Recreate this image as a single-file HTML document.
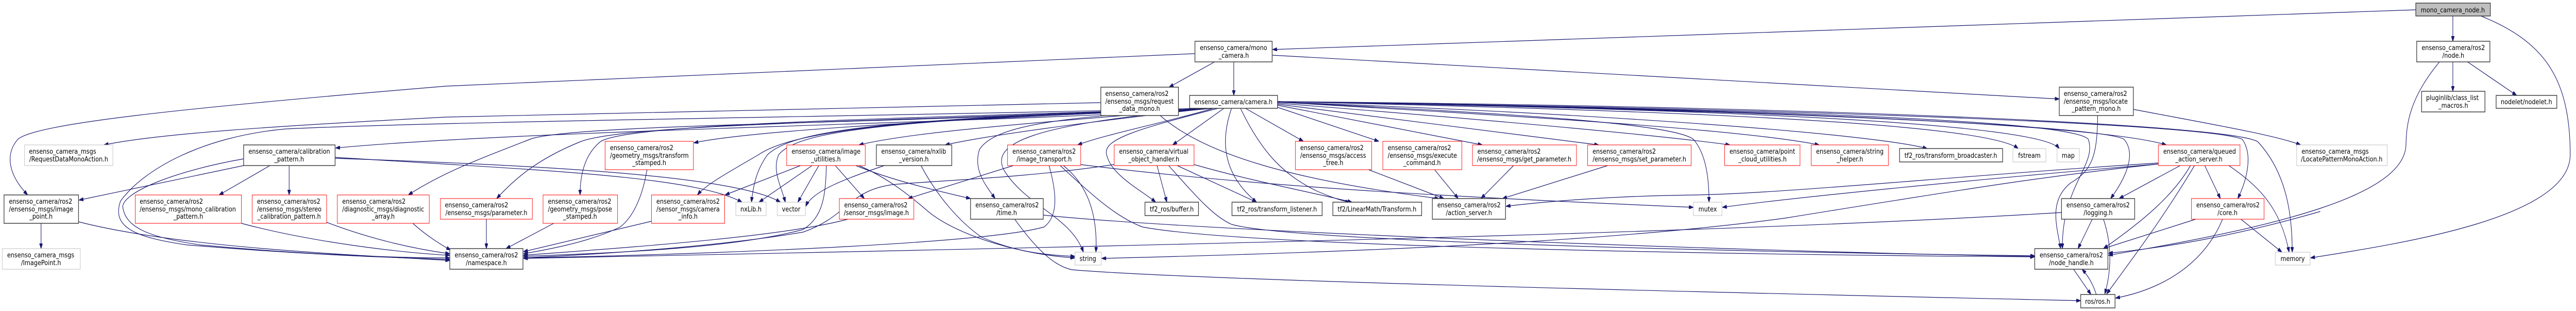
<!DOCTYPE html>
<html><head><meta charset="utf-8"><style>
html,body{margin:0;padding:0;background:#fff;width:100%;height:100%;overflow:hidden;}
svg{display:block;overflow:hidden;width:100vw;height:100vh;}
text{font-family:"DejaVu Sans","Liberation Sans",sans-serif;font-size:13px;fill:#000;}
.e{fill:none;stroke:#191970;stroke-width:1.2;marker-end:url(#ar);}
.k{fill:#fff;stroke:#404040;stroke-width:1.5;}
.g{fill:#fff;stroke:#bfbfbf;stroke-width:1;}
.r{fill:#fff;stroke:#ff0000;stroke-width:1;}
</style></head><body>
<svg viewBox="0 0 5773 603" preserveAspectRatio="none" xmlns="http://www.w3.org/2000/svg">
<defs><marker id="ar" viewBox="0 0 10 7" refX="10" refY="3.5" markerWidth="10" markerHeight="7" markerUnits="userSpaceOnUse" orient="auto"><path d="M0,0 L10,3.5 L0,7z" fill="#191970" stroke="#191970"/></marker></defs>

<path class="e" d="M5414,19 L2852,96"/>
<path class="e" d="M5497,31 L5497,80"/>
<path class="e" d="M5560,31 C5700,80 5760,150 5760,300 C5760,420 5400,470 5178,500"/>
<path class="e" d="M5497,120 L5497,177"/>
<path class="e" d="M5530,120 L5640,185"/>
<path class="e" d="M5467,120 C5400,190 5393,240 5392,280 C5390,380 5100,440 4725,495"/>
<path class="e" d="M2765,120 L2765,185"/>
<path class="e" d="M2722,120 L2620,169"/>
<path class="e" d="M2678,104 L1000,167 C400,210 80,240 40,270 C10,300 20,340 62,378"/>
<path class="e" d="M2851,107 L4615,192"/>
<path class="e" d="M2467,199 L1000,227 C600,245 350,260 233,281"/>
<path class="e" d="M2600,224 C2700,300 2900,350 3225,385"/>
<path class="e" d="M2700,210 C2400,235 1200,250 752,287"/>
<path class="e" d="M2700,210 C2000,225 1000,235 640,250 C450,265 320,330 270,390 C250,440 300,460 420,475 C700,495 900,500 1008,503"/>
<path class="e" d="M2680,210 C2000,240 1300,240 1191,269 C1100,300 1000,330 915,378"/>
<path class="e" d="M2690,210 C2000,235 1400,240 1300,275 C1200,310 1150,350 1113,385"/>
<path class="e" d="M2700,210 C2000,230 1400,240 1345,275 C1310,300 1300,340 1300,378"/>
<path class="e" d="M2700,210 C2200,230 1700,250 1555,277"/>
<path class="e" d="M2710,210 C2200,225 1800,240 1700,300 C1620,340 1580,360 1563,378"/>
<path class="e" d="M2710,210 C2000,230 1780,250 1720,300 C1695,330 1688,360 1684,392"/>
<path class="e" d="M2710,210 C2000,232 1790,252 1745,300 C1730,330 1750,360 1760,392"/>
<path class="e" d="M2710,210 C2300,240 2050,255 1925,281"/>
<path class="e" d="M2710,210 C2400,240 2200,265 2118,281"/>
<path class="e" d="M2720,210 C2600,240 2480,260 2415,281"/>
<path class="e" d="M2743,210 L2628,281"/>
<path class="e" d="M2720,210 C2400,225 2230,240 2195,290 C2180,330 2210,360 2230,385"/>
<path class="e" d="M2730,210 C2550,250 2470,270 2480,300 C2490,340 2560,370 2590,392"/>
<path class="e" d="M2760,210 C2740,260 2730,330 2816,392"/>
<path class="e" d="M2720,210 C2300,240 2220,280 2250,330 C2300,400 2400,420 2428,489"/>
<path class="e" d="M2791,210 L2921,274"/>
<path class="e" d="M2780,210 C2830,300 2880,340 2950,370 C2990,385 3010,390 3025,392"/>
<path class="e" d="M2863,208 L3090,274"/>
<path class="e" d="M2863,204 L3322,281"/>
<path class="e" d="M2863,202 L3583,281"/>
<path class="e" d="M2863,200 C3300,230 3700,260 3877,281"/>
<path class="e" d="M2863,198 C3400,220 3750,240 3795,270 C3825,300 3830,350 3830,392"/>
<path class="e" d="M2863,198 C3400,225 3900,250 4077,281"/>
<path class="e" d="M2863,198 C3600,220 4200,260 4319,288"/>
<path class="e" d="M2863,197 C3800,215 4450,240 4523,288"/>
<path class="e" d="M2863,197 C3900,212 4570,240 4615,288"/>
<path class="e" d="M2863,197 C3900,210 4700,240 4855,281"/>
<path class="e" d="M2863,197 C3800,210 4700,240 4760,270 C4790,300 4760,350 4730,385"/>
<path class="e" d="M2863,197 C4000,210 4950,240 5025,270 C5050,300 5035,350 5015,385"/>
<path class="e" d="M2863,197 C4000,205 5000,240 5060,275 C5130,340 5137,430 5137,489"/>
<path class="e" d="M2863,197 C4200,215 4650,240 4680,270 C4700,320 4620,360 4622,482"/>
<path class="e" d="M4701,224 C4700,300 4690,330 4640,355 C4590,390 4610,440 4618,482"/>
<path class="e" d="M4781,212 C4950,240 5100,262 5156,281"/>
<path class="e" d="M546,321 L177,388"/>
<path class="e" d="M605,321 L491,378"/>
<path class="e" d="M648,321 L648,378"/>
<path class="e" d="M546,308 C400,330 280,370 275,400 C280,440 330,460 450,475 C700,495 900,500 1008,500"/>
<path class="e" d="M751,305 C1200,330 1550,340 1663,392"/>
<path class="e" d="M751,307 C1200,320 1650,340 1749,392"/>
<path class="e" d="M92,433 L92,482"/>
<path class="e" d="M176,430 C400,480 800,495 1008,505"/>
<path class="e" d="M541,433 C700,470 900,490 1008,495"/>
<path class="e" d="M732,431 C850,470 950,485 1008,492"/>
<path class="e" d="M925,433 C960,460 990,475 1010,485"/>
<path class="e" d="M1090,425 L1090,482"/>
<path class="e" d="M1241,433 L1134,482"/>
<path class="e" d="M1450,329 C1440,380 1420,420 1390,440 C1320,470 1220,485 1173,492"/>
<path class="e" d="M1460,429 L1173,488"/>
<path class="e" d="M1900,425 C1750,460 1400,480 1173,495"/>
<path class="e" d="M1794,321 L1625,378"/>
<path class="e" d="M1820,321 L1701,392"/>
<path class="e" d="M1835,321 L1788,392"/>
<path class="e" d="M1872,321 L1937,385"/>
<path class="e" d="M1852,321 C1850,380 1845,420 1800,445 C1650,480 1400,490 1173,497"/>
<path class="e" d="M1918,321 C2000,350 2100,370 2175,385"/>
<path class="e" d="M1925,321 C1990,345 2040,380 2080,410 C2150,460 2300,495 2409,500"/>
<path class="e" d="M1982,321 C1900,345 1820,370 1806,400"/>
<path class="e" d="M2064,321 C2100,380 2150,430 2200,460 C2280,490 2350,495 2409,497"/>
<path class="e" d="M2271,321 L2035,385"/>
<path class="e" d="M2351,321 C2370,380 2370,420 2340,440 C2200,475 1500,495 1173,500"/>
<path class="e" d="M2383,321 C2440,360 2460,420 2456,489"/>
<path class="e" d="M2376,321 C2450,380 2500,420 2560,440 C2800,480 4000,495 4560,498"/>
<path class="e" d="M2421,319 C2800,360 3200,380 3795,402"/>
<path class="e" d="M2593,321 L2615,392"/>
<path class="e" d="M2638,321 L2816,392"/>
<path class="e" d="M2676,319 C2800,350 2950,375 3030,392"/>
<path class="e" d="M2497,319 C2300,345 2100,350 2000,358 C1900,370 1900,420 1800,450 C1600,480 1300,495 1173,500"/>
<path class="e" d="M2619,321 C2680,380 2720,420 2760,435 C2900,470 4000,490 4560,496"/>
<path class="e" d="M2338,417 C2700,450 4000,490 4560,497"/>
<path class="e" d="M2274,425 C2320,480 2360,515 2402,523 C2700,545 4000,570 4663,583"/>
<path class="e" d="M3067,329 L3236,385"/>
<path class="e" d="M3215,329 L3268,385"/>
<path class="e" d="M3392,321 L3319,385"/>
<path class="e" d="M3603,321 L3367,385"/>
<path class="e" d="M4837,316 C4400,340 4000,375 3800,378 C3600,380 3450,392 3375,400"/>
<path class="e" d="M4837,318 C4400,350 4000,385 3860,402"/>
<path class="e" d="M4886,321 L4749,385"/>
<path class="e" d="M4909,321 C4870,380 4800,430 4714,482"/>
<path class="e" d="M4918,321 C4850,420 4780,500 4721,570"/>
<path class="e" d="M4941,321 L4976,385"/>
<path class="e" d="M4995,321 C5060,360 5110,400 5130,489"/>
<path class="e" d="M4837,318 C4600,340 4450,360 4000,423 C3600,470 3000,490 2469,501"/>
<path class="e" d="M4689,425 L4657,482"/>
<path class="e" d="M4714,425 C4735,480 4730,530 4717,570"/>
<path class="e" d="M4620,412 C4000,445 3000,470 1173,501"/>
<path class="e" d="M4921,425 L4714,482"/>
<path class="e" d="M4981,425 C4940,510 4850,560 4741,578"/>
<path class="e" d="M5022,425 L5114,489"/>
<path class="e" d="M5200,410 C5000,460 4850,480 4725,491"/>
<path class="e" d="M4647,522 L4686,571"/>
<path class="e" d="M4698,571 C4690,550 4680,535 4666,522"/>

<rect class="k" x="5414" y="6" width="167" height="25" style="fill:#bfbfbf"/><text x="5497" y="24" text-anchor="middle">mono_camera_node.h</text>
<rect class="k" x="5416" y="80" width="164" height="40"/><text x="5427" y="97">ensenso_camera/ros2</text><text x="5498" y="112" text-anchor="middle">/node.h</text>
<rect class="k" x="5427" y="177" width="142" height="40"/><text x="5437" y="194">pluginlib/class_list</text><text x="5498" y="209" text-anchor="middle">_macros.h</text>
<rect class="k" x="5594" y="185" width="136" height="25"/><text x="5662" y="202" text-anchor="middle">nodelet/nodelet.h</text>
<rect class="k" x="2678" y="80" width="173" height="40"/><text x="2689" y="97">ensenso_camera/mono</text><text x="2765" y="112" text-anchor="middle">_camera.h</text>
<rect class="k" x="2467" y="169" width="174" height="55"/><text x="2477" y="186">ensenso_camera/ros2</text><text x="2477" y="201">/ensenso_msgs/request</text><text x="2554" y="215" text-anchor="middle">_data_mono.h</text>
<rect class="k" x="2666" y="185" width="197" height="25"/><text x="2764" y="202" text-anchor="middle">ensenso_camera/camera.h</text>
<rect class="k" x="4615" y="169" width="166" height="55"/><text x="4625" y="186">ensenso_camera/ros2</text><text x="4625" y="201">/ensenso_msgs/locate</text><text x="4698" y="215" text-anchor="middle">_pattern_mono.h</text>
<rect class="g" x="55" y="281" width="198" height="40"/><text x="65" y="298">ensenso_camera_msgs</text><text x="154" y="313" text-anchor="middle">/RequestDataMonoAction.h</text>
<rect class="k" x="546" y="281" width="205" height="40"/><text x="557" y="298">ensenso_camera/calibration</text><text x="648" y="313" text-anchor="middle">_pattern.h</text>
<rect class="k" x="9" y="378" width="167" height="55"/><text x="20" y="395">ensenso_camera/ros2</text><text x="20" y="410">/ensenso_msgs/image</text><text x="92" y="424" text-anchor="middle">_point.h</text>
<rect class="g" x="5" y="482" width="175" height="40"/><text x="16" y="499">ensenso_camera_msgs</text><text x="92" y="514" text-anchor="middle">/ImagePoint.h</text>
<rect class="r" x="303" y="378" width="238" height="55"/><text x="313" y="395">ensenso_camera/ros2</text><text x="313" y="410">/ensenso_msgs/mono_calibration</text><text x="422" y="424" text-anchor="middle">_pattern.h</text>
<rect class="r" x="565" y="378" width="167" height="55"/><text x="576" y="395">ensenso_camera/ros2</text><text x="576" y="410">/ensenso_msgs/stereo</text><text x="648" y="424" text-anchor="middle">_calibration_pattern.h</text>
<rect class="r" x="756" y="378" width="206" height="55"/><text x="767" y="395">ensenso_camera/ros2</text><text x="767" y="410">/diagnostic_msgs/diagnostic</text><text x="859" y="424" text-anchor="middle">_array.h</text>
<rect class="r" x="987" y="385" width="206" height="40"/><text x="997" y="402">ensenso_camera/ros2</text><text x="1090" y="417" text-anchor="middle">/ensenso_msgs/parameter.h</text>
<rect class="r" x="1217" y="378" width="167" height="55"/><text x="1228" y="395">ensenso_camera/ros2</text><text x="1228" y="410">/geometry_msgs/pose</text><text x="1300" y="424" text-anchor="middle">_stamped.h</text>
<rect class="r" x="1356" y="274" width="198" height="55"/><text x="1367" y="291">ensenso_camera/ros2</text><text x="1367" y="306">/geometry_msgs/transform</text><text x="1455" y="320" text-anchor="middle">_stamped.h</text>
<rect class="r" x="1460" y="378" width="164" height="55"/><text x="1471" y="395">ensenso_camera/ros2</text><text x="1471" y="410">/sensor_msgs/camera</text><text x="1542" y="424" text-anchor="middle">_info.h</text>
<rect class="g" x="1649" y="392" width="68" height="26"/><text x="1683" y="410" text-anchor="middle">nxLib.h</text>
<rect class="g" x="1742" y="392" width="63" height="26"/><text x="1773" y="410" text-anchor="middle">vector</text>
<rect class="r" x="1763" y="281" width="176" height="40"/><text x="1774" y="298">ensenso_camera/image</text><text x="1851" y="313" text-anchor="middle">_utilities.h</text>
<rect class="r" x="1881" y="385" width="167" height="40"/><text x="1892" y="402">ensenso_camera/ros2</text><text x="1964" y="417" text-anchor="middle">/sensor_msgs/image.h</text>
<rect class="k" x="1964" y="281" width="169" height="40"/><text x="1975" y="298">ensenso_camera/nxlib</text><text x="2048" y="313" text-anchor="middle">_version.h</text>
<rect class="k" x="1008" y="482" width="164" height="40"/><text x="1019" y="499">ensenso_camera/ros2</text><text x="1090" y="514" text-anchor="middle">/namespace.h</text>
<rect class="r" x="2258" y="281" width="164" height="40"/><text x="2269" y="298">ensenso_camera/ros2</text><text x="2340" y="313" text-anchor="middle">/image_transport.h</text>
<rect class="r" x="2497" y="281" width="179" height="40"/><text x="2508" y="298">ensenso_camera/virtual</text><text x="2586" y="313" text-anchor="middle">_object_handler.h</text>
<rect class="k" x="2175" y="385" width="163" height="40"/><text x="2186" y="402">ensenso_camera/ros2</text><text x="2256" y="417" text-anchor="middle">/time.h</text>
<rect class="k" x="2566" y="392" width="120" height="26"/><text x="2626" y="410" text-anchor="middle">tf2_ros/buffer.h</text>
<rect class="k" x="2761" y="392" width="202" height="26"/><text x="2862" y="410" text-anchor="middle">tf2_ros/transform_listener.h</text>
<rect class="g" x="2409" y="489" width="59" height="25"/><text x="2438" y="506" text-anchor="middle">string</text>
<rect class="r" x="2903" y="274" width="171" height="55"/><text x="2914" y="291">ensenso_camera/ros2</text><text x="2914" y="306">/ensenso_msgs/access</text><text x="2988" y="320" text-anchor="middle">_tree.h</text>
<rect class="k" x="2987" y="392" width="199" height="26"/><text x="3086" y="410" text-anchor="middle">tf2/LinearMath/Transform.h</text>
<rect class="r" x="3099" y="274" width="177" height="55"/><text x="3110" y="291">ensenso_camera/ros2</text><text x="3110" y="306">/ensenso_msgs/execute</text><text x="3187" y="320" text-anchor="middle">_command.h</text>
<rect class="r" x="3300" y="281" width="233" height="40"/><text x="3311" y="298">ensenso_camera/ros2</text><text x="3416" y="313" text-anchor="middle">/ensenso_msgs/get_parameter.h</text>
<rect class="r" x="3558" y="281" width="232" height="40"/><text x="3569" y="298">ensenso_camera/ros2</text><text x="3674" y="313" text-anchor="middle">/ensenso_msgs/set_parameter.h</text>
<rect class="r" x="3865" y="281" width="169" height="40"/><text x="3876" y="298">ensenso_camera/point</text><text x="3950" y="313" text-anchor="middle">_cloud_utilities.h</text>
<rect class="k" x="3210" y="385" width="164" height="40"/><text x="3221" y="402">ensenso_camera/ros2</text><text x="3292" y="417" text-anchor="middle">/action_server.h</text>
<rect class="g" x="3795" y="392" width="64" height="26"/><text x="3827" y="410" text-anchor="middle">mutex</text>
<rect class="r" x="4059" y="281" width="173" height="40"/><text x="4070" y="298">ensenso_camera/string</text><text x="4146" y="313" text-anchor="middle">_helper.h</text>
<rect class="k" x="4257" y="288" width="231" height="26"/><text x="4372" y="306" text-anchor="middle">tf2_ros/transform_broadcaster.h</text>
<rect class="g" x="4511" y="288" width="74" height="26"/><text x="4548" y="306" text-anchor="middle">fstream</text>
<rect class="g" x="4610" y="288" width="50" height="26"/><text x="4635" y="306" text-anchor="middle">map</text>
<rect class="r" x="4837" y="281" width="183" height="40"/><text x="4848" y="298">ensenso_camera/queued</text><text x="4928" y="313" text-anchor="middle">_action_server.h</text>
<rect class="g" x="5147" y="281" width="203" height="40"/><text x="5158" y="298">ensenso_camera_msgs</text><text x="5248" y="313" text-anchor="middle">/LocatePatternMonoAction.h</text>
<rect class="k" x="4620" y="385" width="164" height="40"/><text x="4631" y="402">ensenso_camera/ros2</text><text x="4702" y="417" text-anchor="middle">/logging.h</text>
<rect class="k" x="4560" y="482" width="164" height="40"/><text x="4571" y="499">ensenso_camera/ros2</text><text x="4642" y="514" text-anchor="middle">/node_handle.h</text>
<rect class="k" x="4663" y="571" width="77" height="26"/><text x="4701" y="589" text-anchor="middle">ros/ros.h</text>
<rect class="r" x="4911" y="385" width="163" height="40"/><text x="4922" y="402">ensenso_camera/ros2</text><text x="4992" y="417" text-anchor="middle">/core.h</text>
<rect class="g" x="5099" y="489" width="78" height="25"/><text x="5138" y="506" text-anchor="middle">memory</text>
</svg>
</body></html>
